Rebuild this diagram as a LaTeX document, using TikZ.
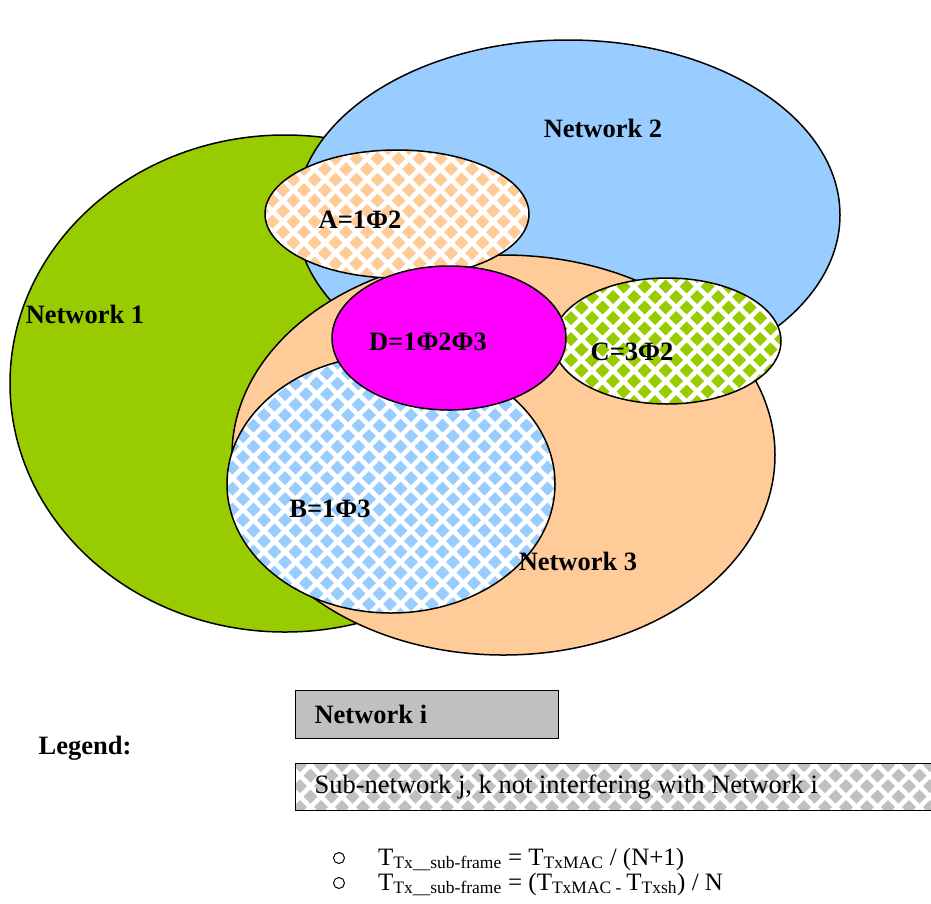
\documentclass[tikz,border=0pt]{standalone}
\usepackage{fontspec}
\setmainfont{Liberation Serif}
\usepackage{tikz}

\definecolor{netgreen}{HTML}{99CC00}
\definecolor{netblue}{HTML}{99CCFF}
\definecolor{netpeach}{HTML}{FFCC99}
\definecolor{netmagenta}{HTML}{FF00FF}
\definecolor{leggray}{HTML}{C0C0C0}

% checker of diamonds: colour, x0, y0, columns, rows
\newcommand{\diamondgrid}[5]{%
  \foreach \j in {0,...,#5} {
    \foreach \i in {0,...,#4} {
      \pgfmathsetmacro{\px}{#2+21*\i+10.5*mod(\j,2)}
      \pgfmathsetmacro{\py}{#3+10.5*\j}
      \fill[#1] (\px-7,\py) -- (\px,\py-7) -- (\px+7,\py) -- (\px,\py+7) -- cycle;
    }
  }
}

\begin{document}
\begin{tikzpicture}[x=1pt,y=-1pt,
  outline/.style={draw=black,line width=1.5pt},
  biglabel/.style={font=\fontsize{26.5}{30}\selectfont\bfseries},
  plainlabel/.style={font=\fontsize{26.5}{30}\selectfont},
  formula/.style={font=\fontsize{25}{28}\selectfont,anchor=base west,inner sep=0pt}]
\useasboundingbox (0,0) rectangle (931,903);

\coordinate (n1) at (285,383.5);
\coordinate (n2) at (568,215);
\coordinate (n3) at (503.5,455);
\coordinate (a) at (397,214);
\coordinate (b) at (391,484);
\coordinate (c) at (667,341);
\coordinate (d) at (449,338);

% networks
\fill[netgreen] (n1) ellipse [x radius=275,y radius=248.5];
\draw[outline] (n1) ellipse [x radius=275,y radius=248.5];
\fill[netblue] (n2) ellipse [x radius=272,y radius=175];
\draw[outline] (n2) ellipse [x radius=272,y radius=175];
\fill[netpeach] (n3) ellipse [x radius=271.5,y radius=200];
\draw[outline] (n3) ellipse [x radius=271.5,y radius=200];

% sub-networks
\begin{scope}
\clip (a) ellipse [x radius=132,y radius=64];
\fill[white] (a) ellipse [x radius=132,y radius=64];
\diamondgrid{netpeach}{262}{148}{14}{14}
\end{scope}
\draw[outline] (a) ellipse [x radius=132,y radius=64];

\begin{scope}
\clip (b) ellipse [x radius=164,y radius=129];
\fill[white] (b) ellipse [x radius=164,y radius=129];
\diamondgrid{netblue}{222}{352}{17}{26}
\end{scope}
\draw[outline] (b) ellipse [x radius=164,y radius=129];

\begin{scope}
\clip (c) ellipse [x radius=114,y radius=63];
\fill[white] (c) ellipse [x radius=114,y radius=63];
\diamondgrid{netgreen}{550}{276}{12}{13}
\end{scope}
\draw[outline] (c) ellipse [x radius=114,y radius=63];

\fill[netmagenta] (d) ellipse [x radius=117,y radius=72];
\draw[outline] (d) ellipse [x radius=117,y radius=72];

\node[biglabel] (lbl1) at (85,314) {Network 1};
\node[biglabel] (lbl2) at (603,128) {Network 2};
\node[biglabel] (lbl3) at (578,561) {Network 3};
\node[biglabel] (lbla) at (360,220) {A=1Φ2};
\node[biglabel] (lblb) at (330,509) {B=1Φ3};
\node[biglabel] (lblc) at (632,352) {C=3Φ2};
\node[biglabel] (lbld) at (428,342) {D=1Φ2Φ3};

% legend
\node[biglabel] (legend) at (85,748) {Legend:};
\fill[leggray] (295,690) rectangle (558,738);
\draw[line width=1pt] (295,690) rectangle (558,738);
\node[biglabel,anchor=west] (netkey) at (311,714) {Network i};
\begin{scope}
\clip (295,763) rectangle (931,810);
\fill[white] (295,763) rectangle (931,810);
\diamondgrid{leggray}{300}{765}{31}{5}
\end{scope}
\draw[line width=1pt] (295,763) rectangle (935,810);
\node[plainlabel,anchor=west] (subkey) at (311,787) {Sub-network j, k not interfering with Network i};

% formulas
\node[circle,draw,line width=1pt,minimum size=11pt,inner sep=0pt] (dot1) at (339,858) {};
\node[circle,draw,line width=1pt,minimum size=11pt,inner sep=0pt] (dot2) at (339,883) {};
\node[formula] (eq1) at (378,865) {T\textsubscript{Tx\_\_sub-frame} = T\textsubscript{TxMAC} / (N+1)};
\node[formula] (eq2) at (378,890) {T\textsubscript{Tx\_\_sub-frame} = (T\textsubscript{TxMAC - }T\textsubscript{Txsh}) / N};
\end{tikzpicture}
\end{document}
